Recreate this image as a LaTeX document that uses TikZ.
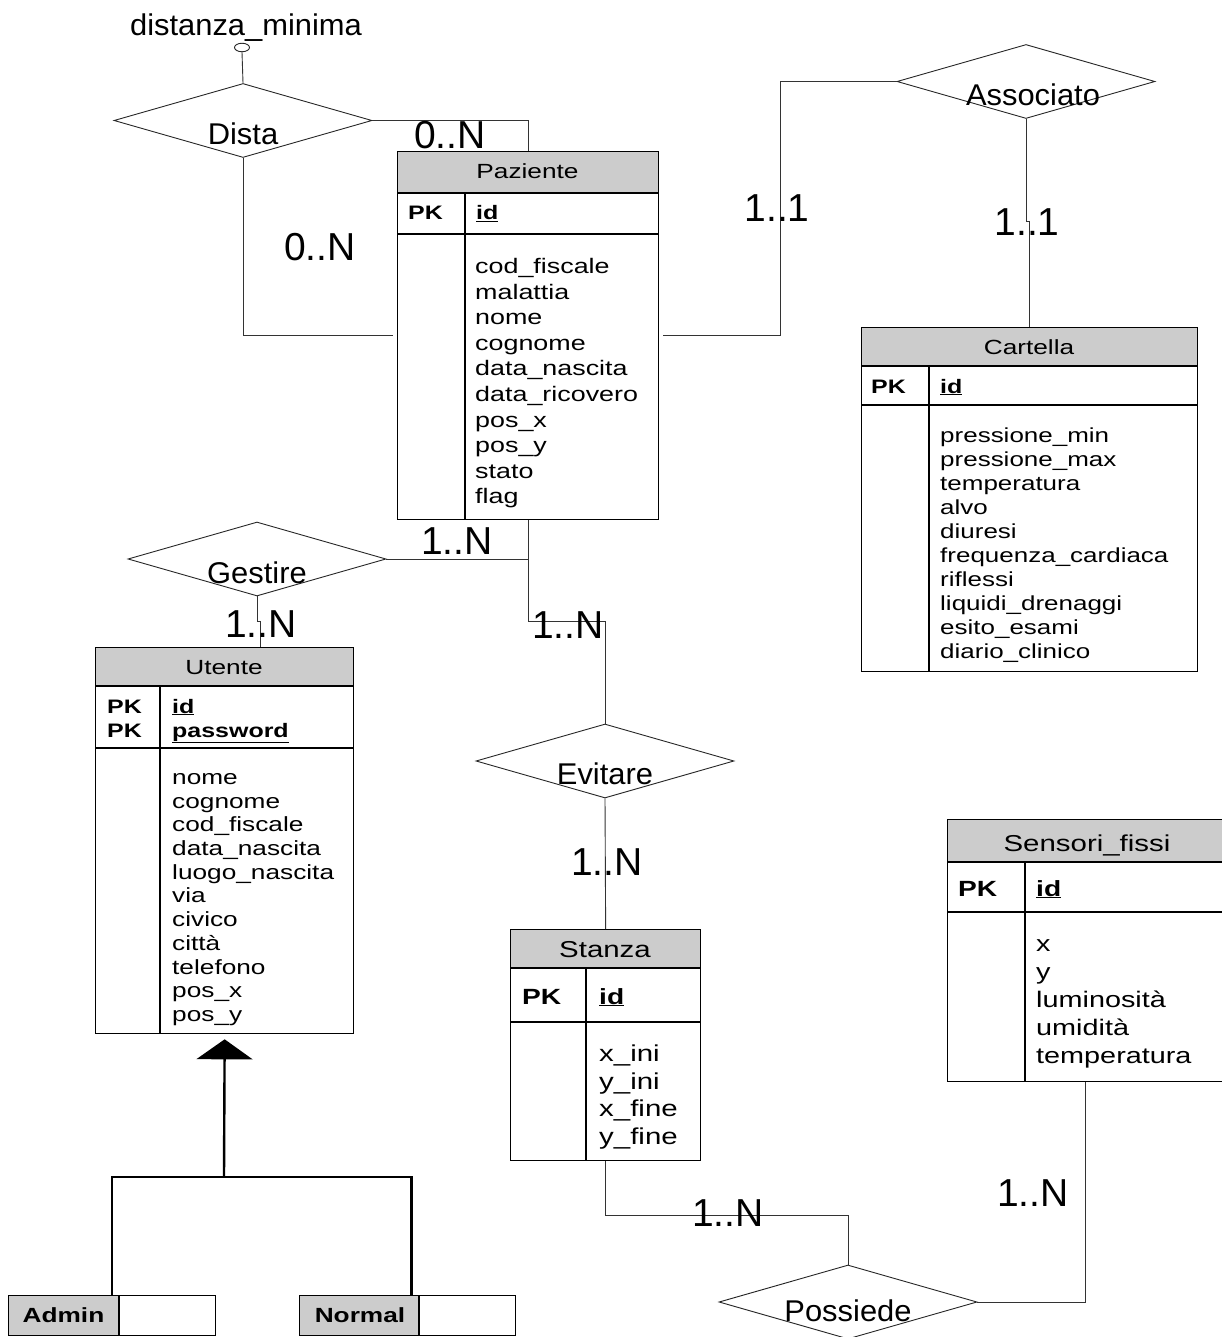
\documentclass[tikz,border=0pt]{standalone}
\usepackage{fontspec}
\setmainfont{Liberation Sans}
\newfontfamily\boxfont{Liberation Sans}[FakeStretch=1.28]
\newfontfamily\relfont{Liberation Sans}[FakeStretch=1.03]
\usetikzlibrary{shapes.geometric,arrows.meta,calc}

\tikzset{
  rule/.style={draw=black, line width=1.3pt},
  entity/.style={draw=black, line width=1.3pt, inner sep=0pt, anchor=north west},
  hdrfill/.style={fill=black!20},
  conn/.style={draw=black!80, line width=0.9pt},
  isa/.style={draw=black, line width=2.4pt},
  rel/.style={draw=black!85, line width=0.9pt, diamond, minimum width=258pt, minimum height=74pt, inner sep=0pt},
  rellabel/.style={font=\relfont\fontsize{30}{36}\selectfont, inner sep=0pt},
  card/.style={font=\fontsize{39}{44}\selectfont, inner sep=0pt},
  ttl/.style={inner sep=0pt, anchor=base},
  txt/.style={inner sep=0pt, anchor=base west},
  smallbox/.style={font=\boxfont\fontsize{20.5}{24}\selectfont},
  smallbold/.style={font=\boxfont\bfseries\fontsize{19.5}{23}\selectfont},
  bigbox/.style={font=\boxfont\fontsize{23}{28}\selectfont},
  bigbold/.style={font=\boxfont\bfseries\fontsize{22}{26}\selectfont},
}

% entity table: name, x1, y1, x2, y2, header bottom, key rows bottom, column divider
\newcommand{\erbox}[8]{%
  \fill[hdrfill] (#2,#3) rectangle (#4,#6);
  \draw[rule] (#2,#6) -- (#4,#6) (#2,#7) -- (#4,#7) (#8,#6) -- (#8,#5);
  \node[entity, minimum width={#4pt-#2pt}, minimum height={#5pt-#3pt}] (#1) at (#2,#3) {};
}

\begin{document}
\begin{tikzpicture}[x=1pt,y=-1pt]
\fill[white] (0,0) rectangle (1221,1337);
\useasboundingbox (0,0) rectangle (1221,1337);

% ---------- entities ----------
\erbox{paz}{397}{151}{658}{519}{193}{234}{465}
\node[ttl, smallbox] (pazT) at (527.5,178.5) {Paziente};
\node[txt, smallbold] (pazK) at (408,220) {PK};
\node[txt, smallbold] (pazI) at (476,220) {\underline{id}};
\foreach \t [count=\i from 0] in {cod\_fiscale,malattia,nome,cognome,data\_nascita,data\_ricovero,pos\_x,pos\_y,stato,flag}
  \node[txt, font=\boxfont\fontsize{21}{25}\selectfont] (pazA\i) at (475,{273.5+25.6*\i}) {\t};

\erbox{cart}{861}{327}{1197}{671}{366}{405}{929}
\node[ttl, smallbox] (cartT) at (1029,354) {Cartella};
\node[txt, smallbold] (cartK) at (871,393) {PK};
\node[txt, smallbold] (cartI) at (940,393) {\underline{id}};
\foreach \t [count=\i from 0] in {pressione\_min,pressione\_max,temperatura,alvo,diuresi,frequenza\_cardiaca,riflessi,liquidi\_drenaggi,esito\_esami,diario\_clinico}
  \node[txt, font=\boxfont\fontsize{20.3}{24}\selectfont] (cartA\i) at (940,{442.3+24*\i}) {\t};

\erbox{ute}{95}{647}{353}{1033}{686}{748}{160}
\node[ttl, smallbox] (uteT) at (224,674.4) {Utente};
\node[txt, smallbold] (uteK1) at (107,713) {PK};
\node[txt, smallbold] (uteK2) at (107,737) {PK};
\node[txt, smallbold] (uteI1) at (172,713) {\underline{id}};
\node[txt, smallbold] (uteI2) at (172,737) {\underline{password}};
\foreach \t [count=\i from 0] in {nome,cognome,cod\_fiscale,data\_nascita,luogo\_nascita,via,civico,città,telefono,pos\_x,pos\_y}
  \node[txt, font=\boxfont\fontsize{20.5}{24}\selectfont] (uteA\i) at (172,{784.4+23.7*\i}) {\t};

\erbox{stan}{510}{929}{700}{1160}{968}{1022}{586}
\node[ttl, bigbox] (stanT) at (605,957.5) {Stanza};
\node[txt, bigbold] (stanK) at (522,1004) {PK};
\node[txt, bigbold] (stanI) at (599,1004) {\underline{id}};
\foreach \t [count=\i from 0] in {x\_ini,y\_ini,x\_fine,y\_fine}
  \node[txt, bigbox] (stanA\i) at (599,{1061.3+27.7*\i}) {\t};

\erbox{sens}{947}{819}{1223}{1081}{862}{912}{1025}
\node[ttl, bigbox] (sensT) at (1087,851.5) {Sensori\_fissi};
\node[txt, bigbold] (sensK) at (958,896) {PK};
\node[txt, bigbold] (sensI) at (1036,896) {\underline{id}};
\foreach \t [count=\i from 0] in {x,y,luminosità,umidità,temperatura}
  \node[txt, font=\boxfont\fontsize{22.5}{27}\selectfont] (sensA\i) at (1036,{951.1+28*\i}) {\t};

% subtypes of Utente
\fill[hdrfill] (8,1295) rectangle (119,1335);
\draw[rule] (119,1295) -- (119,1335);
\node[entity, minimum width=207pt, minimum height=40pt] (adm) at (8,1295) {};
\node[ttl, font=\boxfont\bfseries\fontsize{20.5}{24}\selectfont] (admT) at (63.5,1322) {Admin};
\fill[hdrfill] (299,1295) rectangle (419,1335);
\draw[rule] (419,1295) -- (419,1335);
\node[entity, minimum width=216pt, minimum height=40pt] (norm) at (299,1295) {};
\node[ttl, font=\boxfont\bfseries\fontsize{20.5}{24}\selectfont] (normT) at (360,1322) {Normal};

% ---------- relationships ----------
\node[rel] (dista) at (243,120.5) {};
\node[rellabel] (distaT) at ([yshift=-13.5pt]dista.center) {Dista};
\node[rel] (asso) at (1026,81.5) {};
\node[rellabel] (assoT) at ([xshift=7pt,yshift=-13pt]asso.center) {Associato};
\node[rel] (gest) at (257,559) {};
\node[rellabel] (gestT) at ([yshift=-14pt]gest.center) {Gestire};
\node[rel] (evit) at (605,761) {};
\node[rellabel] (evitT) at ([yshift=-13pt]evit.center) {Evitare};
\node[rel] (poss) at (848,1302) {};
\node[rellabel] (possT) at ([yshift=-9pt]poss.center) {Possiede};

% attribute of Dista
\node[draw=black!85, line width=0.9pt, ellipse, minimum width=15pt, minimum height=8.5pt, inner sep=0pt] (dmin) at (242,47.5) {};
\node[inner sep=0pt, anchor=base, font=\relfont\fontsize{30}{34}\selectfont] (dminT) at (246,36) {distanza\_minima};

% ---------- connectors ----------
\coordinate (asbend) at (780,81.5);
\draw[conn] (dmin.south) -- (dista.north);
\draw[conn] (dista.east) -| (paz.north);
\draw[conn] (dista.south) |- ([xshift=-4pt]paz.west);
\draw[conn] ([xshift=4pt]paz.east) -| (asbend) -- (asso.west);
\draw[conn] (asso.south) -- ++(0,103) -| (cart.north);
\draw[conn] (gest.east) -| (paz.south);
\draw[conn] (paz.south) -- ++(0,101) -| (evit.north);
\draw[conn] (gest.south) -- ++(0,25) -| ([xshift=36pt]ute.north);
\draw[conn] (evit.south) -- (stan.north);
\draw[conn] (stan.south) -- ++(0,54) -| (poss.north);
\draw[conn] (poss.east) -| (sens.south);

% generalization
\coordinate (isaj) at (224,1177);
\draw[isa, -{Triangle[width=56pt,length=20pt]}] (isaj) -- ([yshift=-5pt]ute.south);
\draw[isa] (adm.north) |- (isaj) -| ([xshift=4pt]norm.north);

% ---------- cardinalities ----------
\node[card] (c1) at (450,135) {0..N};
\node[card] (c2) at (320,247) {0..N};
\node[card] (c3) at (777,208) {1..1};
\node[card] (c4) at (1027,222) {1..1};
\node[card] (c5) at (457,541) {1..N};
\node[card] (c6) at (261,624) {1..N};
\node[card] (c7) at (568,625) {1..N};
\node[card] (c8) at (607,862) {1..N};
\node[card] (c9) at (728,1213) {1..N};
\node[card] (c10) at (1033,1193) {1..N};
\end{tikzpicture}
\end{document}
